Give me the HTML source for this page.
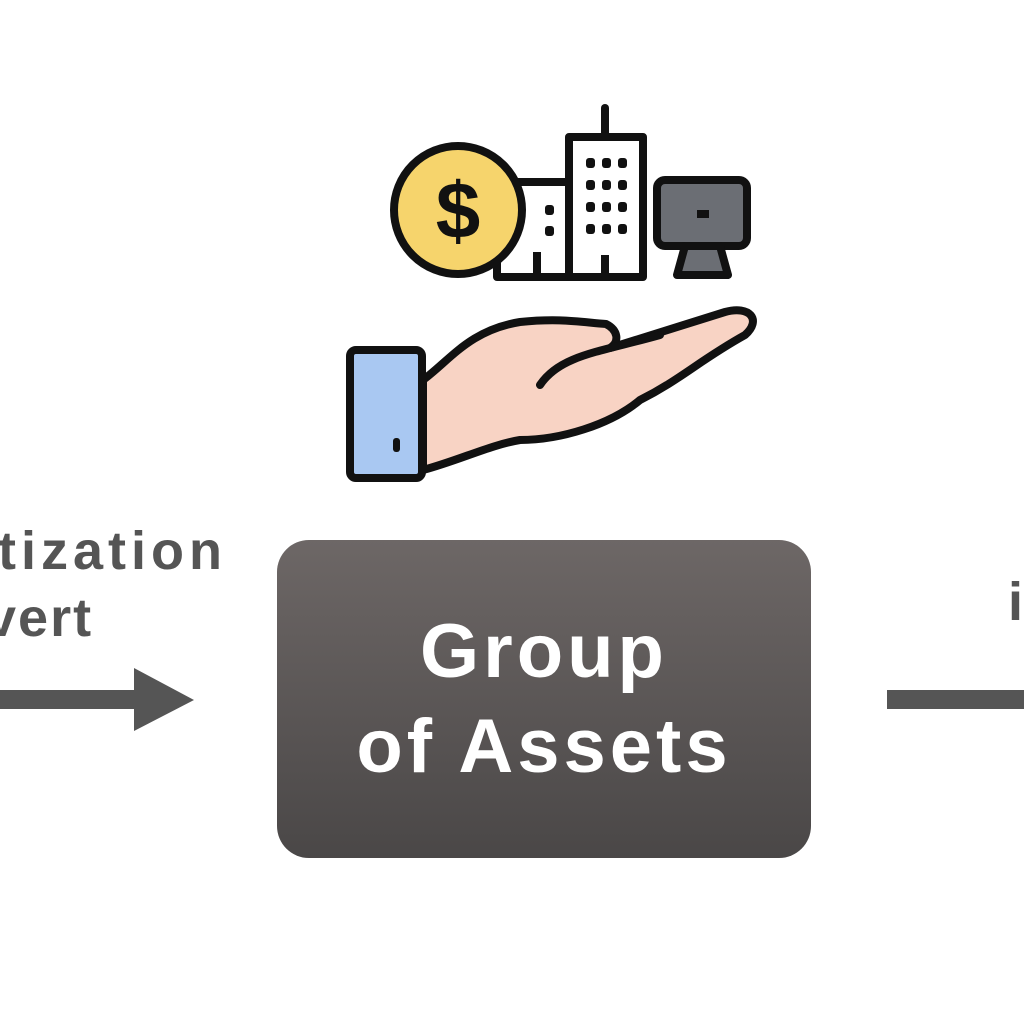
<!DOCTYPE html>
<html><head><meta charset="utf-8"><style>
html,body{margin:0;padding:0;background:#fff;}
body{width:1024px;height:1024px;position:relative;overflow:hidden;font-family:"Liberation Sans",sans-serif;}
.t{position:absolute;font-weight:bold;color:#555;font-size:54px;white-space:nowrap;letter-spacing:3px;}
.box{position:absolute;left:277px;top:540px;width:534px;height:318px;border-radius:32px;background:linear-gradient(#6d6766,#4a4747);}
.bt{position:absolute;left:0;width:100%;text-align:center;color:#fff;font-weight:bold;font-size:76px;letter-spacing:4px;}
</style></head><body>
<div class="t" style="left:-2px;top:520px;letter-spacing:5px;">tization</div>
<div class="t" style="left:-14px;top:587px;letter-spacing:2px;">vert</div>
<div class="t" style="left:1008px;top:571px;">i</div>
<svg width="1024" height="1024" style="position:absolute;left:0;top:0">
<rect x="0" y="690" width="140" height="19" fill="#555"/>
<polygon points="134,668 194,700 134,731" fill="#555"/>
<rect x="887" y="690" width="137" height="19" fill="#555"/>
<g stroke="#111" stroke-width="8" stroke-linejoin="round" stroke-linecap="round">
<line x1="605" y1="108" x2="605" y2="135"/>
<rect x="497" y="182" width="72" height="95" fill="#fff"/>
<rect x="569" y="137" width="74" height="140" fill="#fff"/>
<circle cx="458" cy="210" r="64" fill="#f6d46c"/>
<rect x="657" y="180" width="90" height="66" rx="8" fill="#6b6e74"/>
<polygon points="685,246 720,246 728,275 677,275" fill="#6b6e74"/>
<path d="M423,380 C450,360 470,330 520,322 C560,318 580,322 606,324 C618,330 620,342 610,348 L725,312 C750,305 762,320 745,335 C700,360 680,380 640,400 C610,425 560,440 520,440 C490,445 460,460 423,470 Z" fill="#f8d3c4"/>
<path d="M540,385 C560,355 600,352 660,335" fill="none"/>
<rect x="350" y="350" width="72" height="128" rx="6" fill="#a9c8f2"/>
</g>
<text x="458" y="238" text-anchor="middle" font-family="Liberation Sans" font-weight="bold" font-size="80" fill="#111">$</text>
<g fill="#111">
<rect x="586" y="158" width="9" height="10" rx="3"/><rect x="602" y="158" width="9" height="10" rx="3"/><rect x="618" y="158" width="9" height="10" rx="3"/>
<rect x="586" y="180" width="9" height="10" rx="3"/><rect x="602" y="180" width="9" height="10" rx="3"/><rect x="618" y="180" width="9" height="10" rx="3"/>
<rect x="586" y="202" width="9" height="10" rx="3"/><rect x="602" y="202" width="9" height="10" rx="3"/><rect x="618" y="202" width="9" height="10" rx="3"/>
<rect x="586" y="224" width="9" height="10" rx="3"/><rect x="602" y="224" width="9" height="10" rx="3"/><rect x="618" y="224" width="9" height="10" rx="3"/>
<rect x="545" y="205" width="9" height="10" rx="3"/><rect x="545" y="226" width="9" height="10" rx="3"/>
<rect x="533" y="252" width="8" height="25"/><rect x="601" y="255" width="8" height="22"/>
<rect x="697" y="210" width="12" height="8"/>
<rect x="393" y="438" width="7" height="14" rx="3"/>
</g>
</svg>
<div class="box">
<div class="bt" style="top:68px;">Group</div>
<div class="bt" style="top:163px;">of Assets</div>
</div>
</body></html>
